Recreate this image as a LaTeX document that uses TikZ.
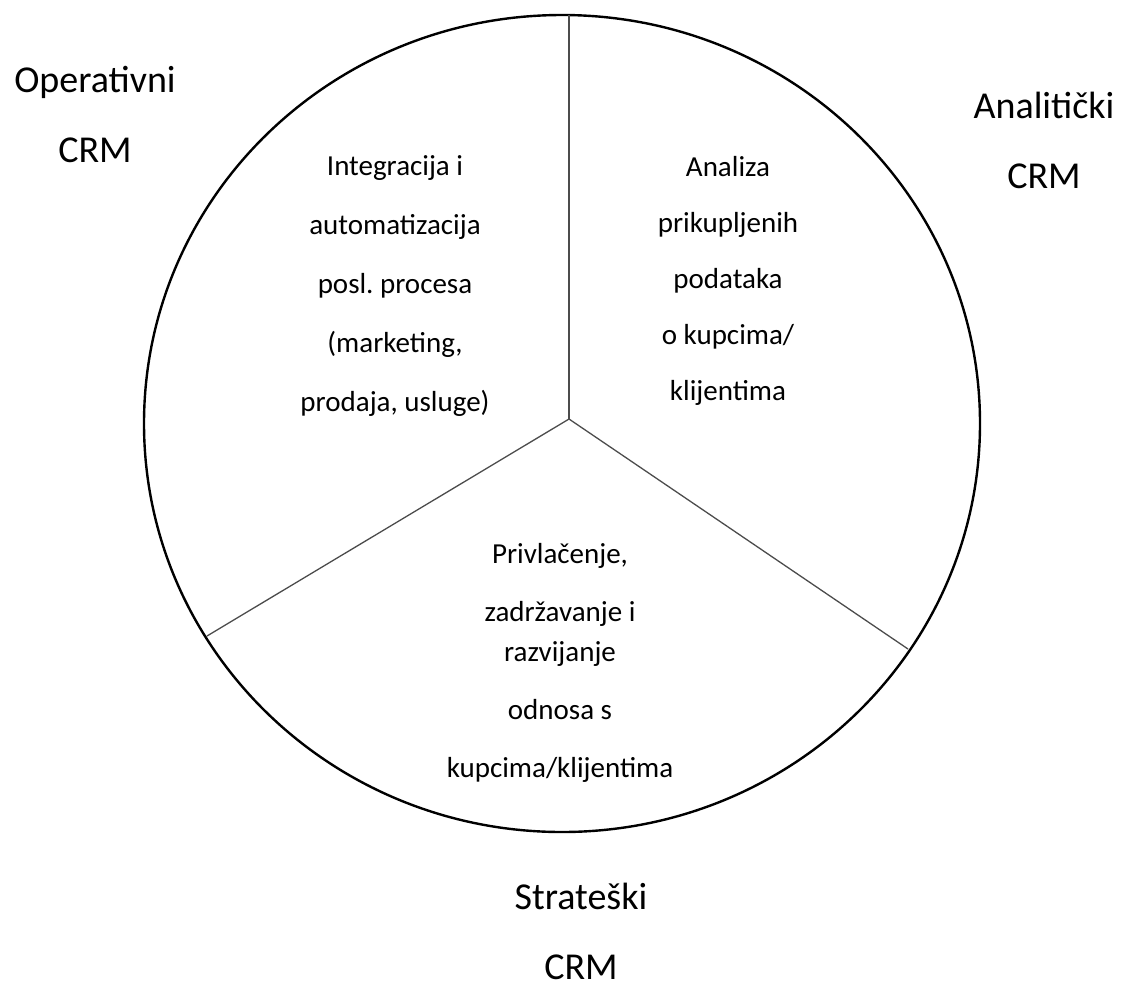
\documentclass[tikz,border=0pt]{standalone}
\usepackage{fontspec}
\setmainfont{Carlito}
\frenchspacing
\begin{document}
\begin{tikzpicture}[x=1pt,y=-1pt,
  rim/.style={draw=black,line width=2.4pt},
  spoke/.style={draw=black!70,line width=1.3pt},
  outer/.style={align=center,inner sep=0pt,anchor=base,font=\fontsize{38}{70}\selectfont},
  inner/.style={align=center,inner sep=0pt,anchor=base}]
\useasboundingbox (0,0) rectangle (1129,989);
\draw[rim] (562,423.5) ellipse [x radius=418, y radius=408.5];
\coordinate (c) at (569,419);
\coordinate (top) at (569,15);
\coordinate (ll) at (207,636);
\coordinate (lr) at (908,649);
\draw[spoke] (c) -- (top);
\draw[spoke] (c) -- (ll);
\draw[spoke] (c) -- (lr);
% anchor=base is the baseline of the last line
\node[outer] (op) at (95,162) {Operativni\\CRM};
\node[outer] (an) at (1044,188) {Analitički\\CRM};
\node[outer] (st) at (581,979) {Strateški\\CRM};
\node[inner,font=\fontsize{29}{59}\selectfont] (tl) at (395,411)
  {Integracija i\\automatizacija\\posl. procesa\\(marketing,\\prodaja, usluge)};
\node[inner,font=\fontsize{29}{56}\selectfont] (tr) at (728,400)
  {Analiza\\prikupljenih\\podataka\\o kupcima/\\klijentima};
\node[inner,font=\fontsize{29}{58}\selectfont] (bt) at (560,777)
  {Privlačenje,\\zadržavanje i\\[-18pt]razvijanje\\odnosa s\\kupcima/klijentima};
\end{tikzpicture}
\end{document}
